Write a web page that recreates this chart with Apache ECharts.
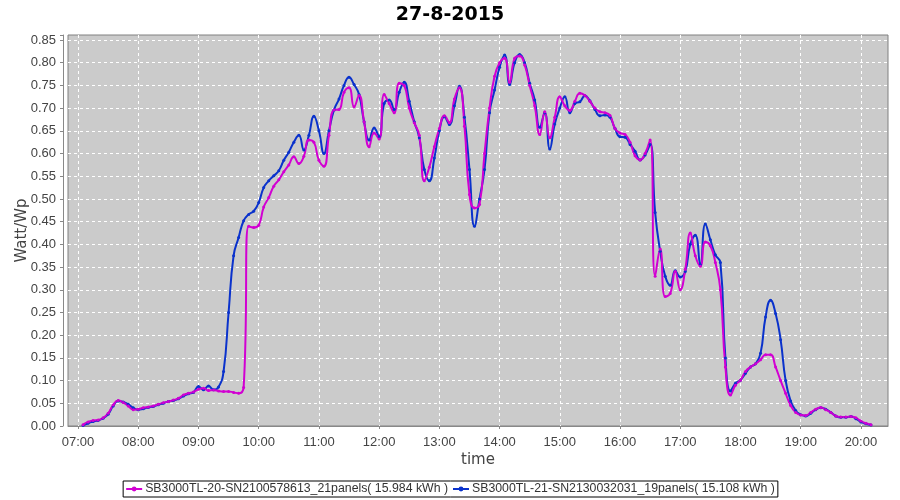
<!DOCTYPE html>
<html>
<head>
<meta charset="utf-8">
<script src="https://cdn.jsdelivr.net/npm/echarts@6/dist/echarts.min.js"></script>
<style>
  html, body { margin: 0; padding: 0; background: #fff; }
  #main { width: 900px; height: 500px; }
</style>
</head>
<body>
<div id="main"></div>
<script>
var chartTitle = '27-8-2015';
var nameX = 'time';
var nameY = 'Watt/Wp';
var day = [2015, 7, 27];
var axisStart = '06:50';
var axisEnd = '20:27';
var pinkName = 'SB3000TL-20-SN2100578613_21panels( 15.984 kWh )';
var blueName = 'SB3000TL-21-SN2130032031_19panels( 15.108 kWh )';

var times = [
  '07:05','07:10','07:15','07:20','07:25','07:30','07:35','07:40','07:45','07:50','07:55',
  '08:00','08:05','08:10','08:15','08:20','08:25','08:30','08:35','08:40','08:45','08:50','08:55',
  '09:00','09:05','09:10','09:15','09:20','09:25','09:30','09:35','09:40','09:45','09:50','09:55',
  '10:00','10:05','10:10','10:15','10:20','10:25','10:30','10:35','10:40','10:45','10:50','10:55',
  '11:00','11:05','11:10','11:15','11:20','11:25','11:30','11:35','11:40','11:45','11:50','11:55',
  '12:00','12:05','12:10','12:15','12:20','12:25','12:30','12:35','12:40','12:45','12:50','12:55',
  '13:00','13:05','13:10','13:15','13:20','13:25','13:30','13:35','13:40','13:45','13:50','13:55',
  '14:00','14:05','14:10','14:15','14:20','14:25','14:30','14:35','14:40','14:45','14:50','14:55',
  '15:00','15:05','15:10','15:15','15:20','15:25','15:30','15:35','15:40','15:45','15:50','15:55',
  '16:00','16:05','16:10','16:15','16:20','16:25','16:30','16:35','16:40','16:45','16:50','16:55',
  '17:00','17:05','17:10','17:15','17:20','17:25','17:30','17:35','17:40','17:45','17:50','17:55',
  '18:00','18:05','18:10','18:15','18:20','18:25','18:30','18:35','18:40','18:45','18:50','18:55',
  '19:00','19:05','19:10','19:15','19:20','19:25','19:30','19:35','19:40','19:45','19:50','19:55',
  '20:00','20:05','20:10'
];

// SN2100578613 (magenta)
var pinkValues = [
  0.003,0.009,0.012,0.013,0.018,0.028,0.046,0.056,0.052,0.044,0.036,
  0.037,0.040,0.042,0.044,0.048,0.051,0.054,0.057,0.061,0.068,0.072,0.075,
  0.081,0.083,0.078,0.079,0.077,0.076,0.076,0.074,0.072,0.085,0.440,0.437,
  0.442,0.482,0.503,0.528,0.542,0.560,0.575,0.593,0.578,0.594,0.630,0.625,
  0.585,0.572,0.640,0.696,0.697,0.735,0.745,0.703,0.728,0.670,0.615,0.645,
  0.632,0.730,0.710,0.690,0.755,0.750,0.700,0.668,0.640,0.540,0.570,0.615,
  0.655,0.683,0.668,0.720,0.745,0.660,0.510,0.480,0.488,0.600,0.700,0.770,
  0.800,0.810,0.757,0.810,0.815,0.795,0.750,0.705,0.642,0.692,0.635,0.680,
  0.725,0.705,0.695,0.715,0.733,0.728,0.715,0.700,0.692,0.690,0.684,0.655,
  0.645,0.642,0.625,0.595,0.586,0.600,0.630,0.330,0.390,0.285,0.292,0.340,
  0.300,0.345,0.425,0.375,0.352,0.405,0.397,0.360,0.300,0.130,0.068,0.090,
  0.101,0.120,0.130,0.137,0.146,0.157,0.157,0.130,0.100,0.072,0.045,0.030,
  0.024,0.023,0.030,0.037,0.041,0.036,0.030,0.022,0.020,0.020,0.021,0.018,
  0.011,0.006,0.003
];

// SN2130032031 (blue)
var blueValues = [
  0.001,0.006,0.010,0.012,0.017,0.026,0.044,0.055,0.053,0.048,0.040,
  0.036,0.038,0.041,0.043,0.047,0.050,0.054,0.056,0.060,0.066,0.071,0.074,
  0.087,0.080,0.088,0.080,0.086,0.120,0.250,0.375,0.415,0.452,0.466,0.473,
  0.492,0.525,0.540,0.551,0.562,0.585,0.603,0.625,0.640,0.608,0.640,0.682,
  0.650,0.600,0.650,0.696,0.720,0.750,0.768,0.752,0.730,0.670,0.630,0.656,
  0.637,0.710,0.718,0.697,0.735,0.757,0.715,0.670,0.635,0.565,0.540,0.590,
  0.650,0.681,0.664,0.705,0.748,0.680,0.565,0.440,0.500,0.565,0.690,0.740,
  0.790,0.817,0.752,0.800,0.818,0.800,0.755,0.718,0.658,0.690,0.610,0.665,
  0.700,0.725,0.690,0.710,0.714,0.727,0.716,0.697,0.683,0.685,0.680,0.655,
  0.637,0.636,0.620,0.605,0.586,0.597,0.620,0.470,0.385,0.330,0.310,0.342,
  0.328,0.340,0.400,0.420,0.355,0.445,0.410,0.377,0.360,0.150,0.077,0.094,
  0.101,0.116,0.130,0.137,0.160,0.240,0.277,0.248,0.190,0.100,0.055,0.034,
  0.025,0.022,0.028,0.036,0.040,0.037,0.030,0.022,0.019,0.019,0.021,0.016,
  0.009,0.005,0.002
];

var pinkColor = '#d200d2';
var blueColor = '#0a32cc';

function toTime(hhmm) {
  var p = hhmm.split(':');
  return new Date(day[0], day[1], day[2], +p[0], +p[1]).getTime();
}
function pairs(vals) {
  return times.map(function (t, i) { return [toTime(t), vals[i]]; });
}
function pad(n) { return n < 10 ? '0' + n : '' + n; }

var chart = echarts.init(document.getElementById('main'));
chart.setOption({
  animation: false,
  backgroundColor: '#fff',
  title: {
    text: chartTitle,
    left: 'center',
    top: 1,
    textStyle: { fontFamily: 'DejaVu Sans', fontSize: 19, fontWeight: 'bold', color: '#000' }
  },
  legend: {
    data: [pinkName, blueName],
    bottom: 3,
    left: 'center',
    orient: 'horizontal',
    backgroundColor: '#fff',
    borderColor: '#000',
    borderWidth: 1,
    borderRadius: 0,
    padding: [2, 3, 2, 2],
    itemGap: 4,
    itemWidth: 16,
    itemHeight: 6,
    textStyle: { fontFamily: 'Liberation Sans', fontSize: 12.3, color: '#333', padding: [0, 0, 0, -2] }
  },
  grid: {
    left: 68,
    right: 12,
    top: 35,
    bottom: 74,
    outerBoundsMode: 'none',
    show: true,
    backgroundColor: '#cbcbcb',
    borderColor: '#808080',
    borderWidth: 1
  },
  xAxis: {
    type: 'time',
    min: toTime(axisStart),
    max: toTime(axisEnd),
    minInterval: 3600 * 1000,
    maxInterval: 3600 * 1000,
    splitNumber: 14,
    offset: 5,
    name: nameX,
    nameLocation: 'middle',
    nameGap: 22,
    nameMoveOverlap: false,
    nameTextStyle: { fontFamily: 'DejaVu Sans', fontSize: 15, color: '#444' },
    axisLine: { show: true, lineStyle: { color: '#888', width: 1 } },
    axisTick: { show: true, length: 3, lineStyle: { color: '#888' } },
    axisLabel: {
      showMinLabel: false,
      showMaxLabel: false,
      margin: 5,
      fontFamily: 'Liberation Sans',
      fontSize: 13,
      color: '#444',
      formatter: function (v) {
        var d = new Date(v);
        return pad(d.getHours()) + ':' + pad(d.getMinutes());
      }
    },
    splitLine: {
      show: true,
      showMinLine: false,
      showMaxLine: false,
      lineStyle: { color: '#fff', type: [3, 3], width: 1 }
    }
  },
  yAxis: {
    type: 'value',
    min: 0,
    max: 0.861,
    interval: 0.05,
    offset: 5,
    name: nameY,
    nameLocation: 'middle',
    nameRotate: 90,
    nameGap: 33,
    nameMoveOverlap: false,
    nameTextStyle: { fontFamily: 'DejaVu Sans', fontSize: 15, color: '#444' },
    axisLine: { show: true, lineStyle: { color: '#888', width: 1 } },
    axisTick: { show: true, length: 3, lineStyle: { color: '#888' } },
    axisLabel: {
      margin: 7,
      fontFamily: 'Liberation Sans',
      fontSize: 13,
      color: '#444',
      formatter: function (v) {
        return Math.abs(v * 20 - Math.round(v * 20)) < 1e-6 ? v.toFixed(2) : '';
      }
    },
    splitLine: {
      show: true,
      showMinLine: false,
      showMaxLine: false,
      lineStyle: { color: '#fff', type: [3, 3], width: 1 }
    }
  },
  series: [
    {
      name: blueName,
      type: 'line',
      smooth: 0.5,
      data: pairs(blueValues),
      symbol: 'circle',
      symbolSize: 3,
      showAllSymbol: true,
      lineStyle: { color: blueColor, width: 2 },
      itemStyle: { color: blueColor }
    },
    {
      name: pinkName,
      type: 'line',
      smooth: 0.5,
      data: pairs(pinkValues),
      symbol: 'circle',
      symbolSize: 3,
      showAllSymbol: true,
      lineStyle: { color: pinkColor, width: 2 },
      itemStyle: { color: pinkColor }
    }
  ]
});
</script>
</body>
</html>
